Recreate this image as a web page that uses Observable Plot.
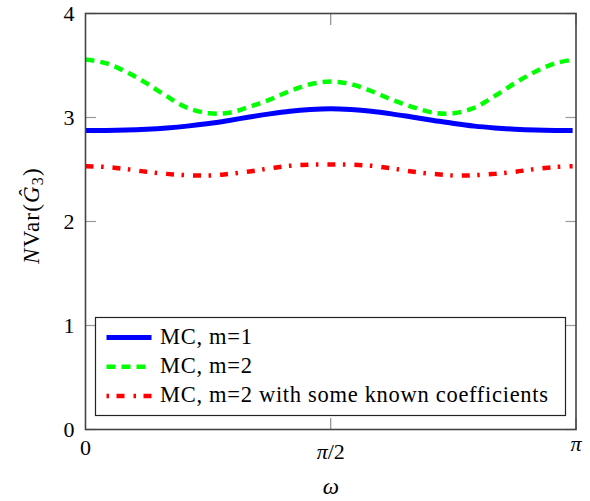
<!DOCTYPE html>
<html><head><meta charset="utf-8">
<script src="https://cdn.jsdelivr.net/npm/d3@7"></script>
<script src="https://cdn.jsdelivr.net/npm/@observablehq/plot@0.6"></script>
<style>body{margin:0;background:#fff} svg{display:block}</style>
</head><body><div id="chart"></div>
<script>
const omega = [0, 0.13, 0.26, 0.39, 0.52, 0.65, 0.79, 0.92, 1.05, 1.18, 1.31, 1.44, 1.57,
               1.70, 1.83, 1.96, 2.09, 2.23, 2.36, 2.49, 2.62, 2.75, 2.88, 3.01, 3.12];
const mc1 = [2.875, 2.876, 2.880, 2.888, 2.900, 2.917, 2.942, 2.972, 3.005, 3.035, 3.060, 3.076, 3.083,
             3.076, 3.060, 3.035, 3.005, 2.972, 2.942, 2.917, 2.900, 2.888, 2.880, 2.876, 2.875];
const mc2 = [3.558, 3.522, 3.440, 3.330, 3.205, 3.094, 3.041, 3.046, 3.103, 3.172, 3.255, 3.320, 3.345,
             3.320, 3.255, 3.172, 3.103, 3.046, 3.041, 3.094, 3.205, 3.330, 3.440, 3.522, 3.555];
const mc2known = [2.532, 2.524, 2.504, 2.478, 2.458, 2.445, 2.442, 2.457, 2.481, 2.511, 2.536, 2.546, 2.548,
                  2.546, 2.536, 2.511, 2.481, 2.457, 2.442, 2.445, 2.458, 2.478, 2.504, 2.524, 2.532];
const seriesNames = ["MC, m=1", "MC, m=2", "MC, m=2 with some known coefficients"];
const seriesColors = ["#0000ff", "#00ff00", "#ff0000"];
const seriesDash = [null, "9,6", "8,7.5,2.5,9"];
const legendDash = [null, "9,6", "2.5,7.5,8,9"];
const seriesWidth = [5, 4.5, 4.5];
const xTickValues = [0, Math.PI / 2, Math.PI];
const xTickLabels = ["0", "π/2", "π"];
const yTickValues = [0, 1, 2, 3, 4];
const xLabel = "ω";
const yLabel = "NVar(Ĝ3)";

const FONT = "'Liberation Serif', 'DejaVu Serif', 'Times New Roman', serif";
const seriesData = [mc1, mc2, mc2known];
const rows = [];
seriesData.forEach((vals, i) => vals.forEach((v, j) => rows.push({series: seriesNames[i], w: omega[j], v})));

const lineMarks = seriesNames.map((name, i) => Plot.line(rows.filter(r => r.series === name), {
  x: "w", y: "v", stroke: seriesColors[i], strokeWidth: seriesWidth[i],
  strokeDasharray: seriesDash[i], strokeLinecap: "butt", curve: "catmull-rom"
}));

// baseline offsets for x tick labels (LaTeX top-aligned boxes)
const xPad = [10.0, 13.5, 5.5];
const xTextAxes = xTickValues.map((t, i) => Plot.axisX([t], {
  anchor: "bottom", tickSize: 0, tickPadding: xPad[i], label: null,
  tickFormat: () => xTickLabels[i], fontSize: 22, fontFamily: FONT, fill: "black"
}));

const plot = Plot.plot({
  width: 590, height: 501,
  marginLeft: 85, marginRight: 14.5, marginTop: 13, marginBottom: 72,
  style: {fontFamily: FONT, fontSize: "22px", background: "white", color: "black"},
  x: {domain: [0, Math.PI]},
  y: {domain: [0, 4]},
  marks: [
    Plot.axisY(yTickValues, {anchor: "left", tickSize: -11, stroke: "#999", strokeWidth: 1.2, tickFormat: () => "", label: null}),
    Plot.axisY(yTickValues, {anchor: "right", tickSize: -11, stroke: "#999", strokeWidth: 1.2, tickFormat: () => "", label: null}),
    Plot.axisX(xTickValues, {anchor: "bottom", tickSize: -11, stroke: "#777", strokeWidth: 1, tickFormat: () => "", label: null}),
    Plot.axisX(xTickValues, {anchor: "top", tickSize: -11, stroke: "#777", strokeWidth: 1, tickFormat: () => "", label: null}),
    Plot.axisY(yTickValues, {anchor: "left", tickSize: 0, tickPadding: 11, label: null, tickFormat: d3.format("d"), fontSize: 22, fontFamily: FONT, fill: "black"}),
    ...xTextAxes,
    ...lineMarks,
    Plot.frame({stroke: "#444", strokeWidth: 1.6}),
    Plot.text([xLabel], {frameAnchor: "bottom", dy: 64, fontSize: 23, fontStyle: "italic", fontFamily: FONT, fill: "black"}),
    Plot.text([yLabel], {frameAnchor: "left", textAnchor: "middle", rotate: -90, dx: -54, dy: -6, fontSize: 23, fontFamily: FONT, fill: "black"})
  ]
});
document.getElementById("chart").appendChild(plot);

const svg = d3.select(plot);
// rich text for labels
svg.selectAll("text").each(function() {
  const el = d3.select(this);
  const t = this.textContent;
  if (t === yLabel) {
    el.text("").attr("letter-spacing", "1.2px");
    el.append("tspan").attr("font-style", "italic").text("N");
    el.append("tspan").text("Var(");
    el.append("tspan").attr("font-style", "italic").text("Ĝ");
    el.append("tspan").attr("font-size", "16px").attr("dy", "4").text("3");
    el.append("tspan").attr("dy", "-4").text(")");
  } else if (t === "π/2" || t === "π") {
    el.text("");
    el.append("tspan").attr("font-style", "italic").text("π");
    if (t === "π/2") el.append("tspan").text("/2");
  }
});

// legend
const lg = svg.append("g").style("font-family", FONT).style("font-size", "22.5px")
  .attr("text-anchor", "start").attr("letter-spacing", "0.7px");
lg.append("rect").attr("x", 95.5).attr("y", 317.5).attr("width", 470).attr("height", 98)
  .attr("fill", "white").attr("stroke", "#222").attr("stroke-width", 1.2);
seriesNames.forEach((name, i) => {
  const cy = 337.5 + i * 29.2;
  lg.append("line").attr("x1", 106.5).attr("x2", 151.5).attr("y1", cy).attr("y2", cy)
    .attr("stroke", seriesColors[i]).attr("stroke-width", seriesWidth[i])
    .attr("stroke-dasharray", legendDash[i]);
  lg.append("text").attr("x", 160).attr("y", cy + 6).attr("fill", "black").text(name);
});
</script>
</body></html>
